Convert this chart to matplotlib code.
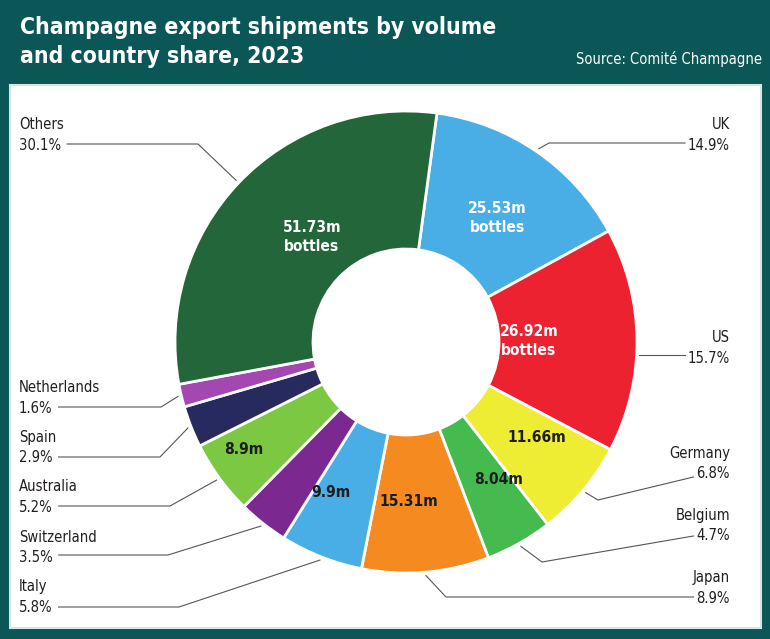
import numpy as np
import matplotlib.pyplot as plt
from matplotlib.patches import Rectangle

# export shares, clockwise from the top
countries = ["UK", "US", "Germany", "Belgium", "Japan", "Italy",
             "Switzerland", "Australia", "Spain", "Netherlands", "Others"]
shares = [14.9, 15.7, 6.8, 4.7, 8.9, 5.8, 3.5, 5.2, 2.9, 1.6, 30.1]
bottles = ["25.53m\nbottles", "26.92m\nbottles", "11.66m", "8.04m", "15.31m", "9.9m",
           None, "8.9m", None, None, "51.73m\nbottles"]
colors = ["#4aaee6", "#ec2231", "#eeec33", "#45ba4f", "#f58a21", "#4aaee6",
          "#7b2890", "#7cc843", "#262a5e", "#a447b0", "#22663a"]
in_text_col = ["white", "white", "#1c1c1c", "#1c1c1c", "#1c1c1c", "#1c1c1c",
               None, "#1c1c1c", None, None, "white"]

W, H = 770, 639
FONT = "DejaVu Sans"
TXT = "#231f20"
COND = dict(family=FONT, fontstretch="condensed")


def Y(py):
    return H - py


fig = plt.figure(figsize=(W / 100, H / 100), dpi=100)
fig.patch.set_facecolor("#0b5656")
ax = fig.add_axes([0, 0, 1, 1])
ax.set_facecolor("#0b5656")

ax.add_patch(Rectangle((10, Y(628)), 751, 543, facecolor="white",
                       edgecolor="#d5e6e6", linewidth=1.5, zorder=0))

cx, cy, R = 406, Y(342), 231
wedges, _ = ax.pie(shares, colors=colors, startangle=82.3, counterclock=False,
                   radius=R, center=(cx, cy),
                   wedgeprops=dict(width=138, edgecolor="white", linewidth=2))
ax.set_xlim(0, W)
ax.set_ylim(0, H)
ax.set_aspect("equal")
ax.axis("off")

# labels inside the ring: radius (px) and angle shift (deg, clockwise)
in_radius = [154, 123, 162, 166, 160, 168, 0, 195, 0, 0, 141]
in_shift = [2, 0, -4, -4.5, 4, 5, 0, 2.5, 0, 0, 4.5]
for w, txt, col, r, sh in zip(wedges, bottles, in_text_col, in_radius, in_shift):
    if txt is None:
        continue
    a = np.deg2rad((w.theta1 + w.theta2) / 2 - sh)
    ax.text(cx + r * np.cos(a), cy + r * np.sin(a), txt, color=col,
            ha="center", va="center", fontsize=11.2, fontweight="bold",
            linespacing=1.35, **COND)

# outside labels: name baseline, pct baseline, side, line y, elbow (x, y)
label_pos = {
    "Others": (129, 150, "L", 144, 198, 144),
    "Netherlands": (392, 413, "L", 407, 161, 407),
    "Spain": (442, 462, "L", 457, 160, 457),
    "Australia": (491, 512, "L", 506, 170, 506),
    "Switzerland": (542, 562, "L", 555, 168, 555),
    "Italy": (591, 612, "L", 607, 179, 607),
    "UK": (129, 150, "R", 143, 549, 143),
    "US": (342, 363, "R", 355, None, None),
    "Germany": (458, 478, "R", 477, 598, 500),
    "Belgium": (520, 540, "R", 536, 542, 562),
    "Japan": (582, 603, "R", 597, 446, 597),
}

fig.canvas.draw()
renderer = fig.canvas.get_renderer()
for w, name, s in zip(wedges, countries, shares):
    yn, yp, side, ly, ex, ey = label_pos[name]
    x = 19 if side == "L" else 730
    ha = "left" if side == "L" else "right"
    ax.text(x, Y(yn), name, ha=ha, va="baseline", fontsize=10.6, color=TXT, **COND)
    t = ax.text(x, Y(yp), f"{s}%", ha=ha, va="baseline", fontsize=10.6, color=TXT, **COND)
    bb = t.get_window_extent(renderer)
    x0 = bb.x1 + 6 if side == "L" else bb.x0 - 3
    if ex is None:
        # straight line to the ring edge
        dy = Y(ly) - cy
        ax.plot([x0, cx + np.sqrt(R ** 2 - dy ** 2) + 2], [Y(ly), Y(ly)],
                color="#555555", linewidth=0.8)
        continue
    a = np.deg2rad((w.theta1 + w.theta2) / 2)
    axp, ayp = cx + 1.015 * R * np.cos(a), cy + 1.015 * R * np.sin(a)
    ax.plot([x0, ex, axp], [Y(ly), Y(ey), ayp], color="#555555", linewidth=0.8)

fig.text(20 / W, Y(34) / H, "Champagne export shipments by volume", color="white",
         fontsize=16.5, fontweight="bold", va="baseline", ha="left", **COND)
fig.text(20 / W, Y(63) / H, "and country share, 2023", color="white",
         fontsize=16.5, fontweight="bold", va="baseline", ha="left", **COND)
fig.text(762 / W, Y(64) / H, "Source: Comité Champagne", color="white",
         fontsize=10.5, va="baseline", ha="right", **COND)

fig.savefig("out.png", dpi=100, facecolor=fig.get_facecolor())
